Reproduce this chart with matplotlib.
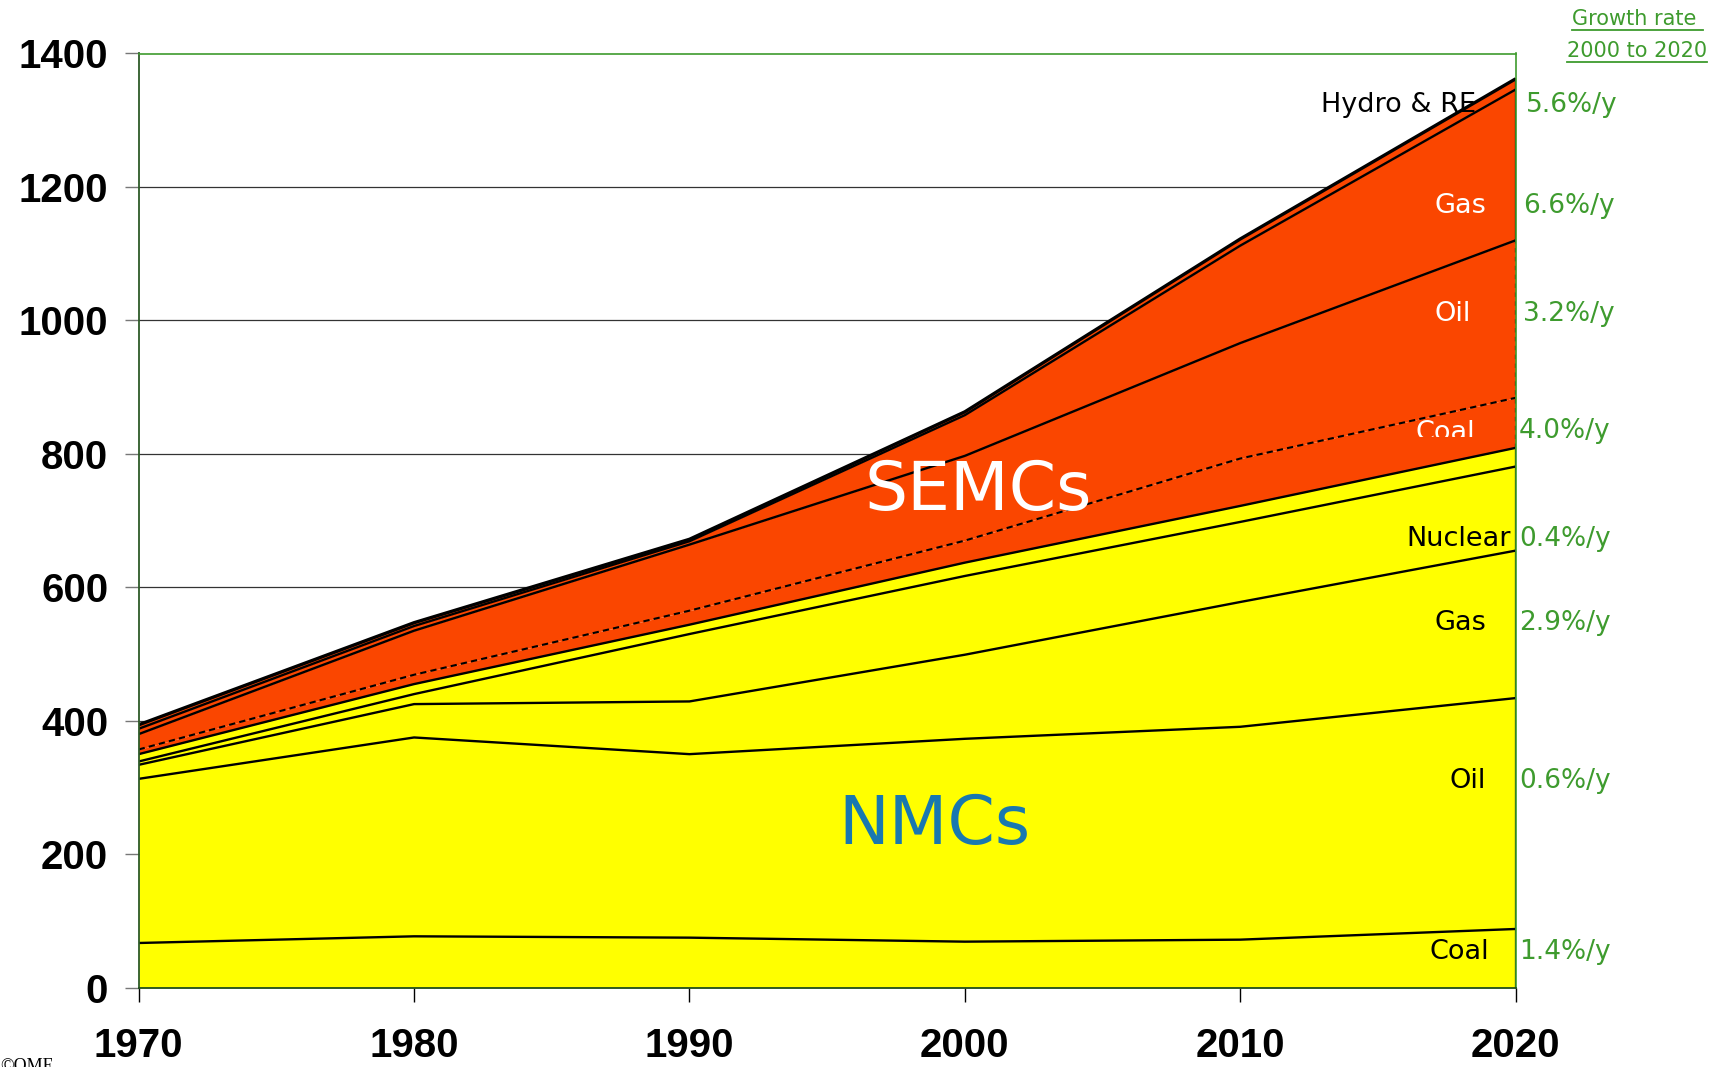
import matplotlib
matplotlib.use("Agg")
import matplotlib.pyplot as plt
from matplotlib.lines import Line2D
from matplotlib.patches import Rectangle
import numpy as np

# ---- data (Mtoe) ----
years = [1970, 1980, 1990, 2000, 2010, 2020]
nmc_coal = [67, 77, 75, 69, 72, 88]
nmc_oil = [246, 298, 275, 304, 319, 346]
nmc_gas = [21, 50, 79, 126, 187, 221]
nmc_nuclear = [5, 15, 101, 118, 120, 126]
nmc_hydro = [11, 15, 14, 20, 24, 28]
semc_coal = [7, 14, 21, 33, 71, 75]
semc_oil = [23, 66, 99, 127, 173, 236]
semc_gas = [8, 7, 5, 61, 146, 226]
semc_hydro = [6, 5, 3, 5, 10, 16]

layer_names = ["Coal", "Oil", "Gas", "Nuclear", "Hydro", "Coal", "Oil", "Gas", "Hydro & RE"]
growth_rates = ["1.4%/y", "0.6%/y", "2.9%/y", "0.4%/y", None, "4.0%/y", "3.2%/y", "6.6%/y", "5.6%/y"]
y_ticks = [0, 200, 400, 600, 800, 1000, 1200, 1400]
x_ticks = [1970, 1980, 1990, 2000, 2010, 2020]

YELLOW = "#FFFF00"
ORANGE = "#FA4600"
GREEN = "#3E9B2E"

layers = [nmc_coal, nmc_oil, nmc_gas, nmc_nuclear, nmc_hydro,
          semc_coal, semc_oil, semc_gas, semc_hydro]
colors = [YELLOW] * 5 + [ORANGE] * 4
styles = ["-"] * 5 + ["--", "-", "-", "-"]

W, H = 1712, 1067
fig = plt.figure(figsize=(W / 100, H / 100), dpi=100)
ax = fig.add_axes([138.7 / W, 1 - 987.7 / H, (1515.6 - 138.7) / W, (987.7 - 53.5) / H])

x = np.array(years, dtype=float)
cum = np.cumsum(np.array(layers, dtype=float), axis=0)
base = np.zeros_like(x)

ax.set_xlim(1970, 2020)
ax.set_ylim(0, 1400)

for yv in y_ticks[1:-1]:
    ax.axhline(yv, color="#333333", lw=0.9, zorder=0)

for i, top in enumerate(cum):
    ax.fill_between(x, base, top, color=colors[i], lw=0, zorder=1)
    lw = 2.4 if i == len(cum) - 1 else 1.7
    if styles[i] == "--":
        ax.plot(x, top, color="black", lw=1.5, ls=(0, (3, 2)), zorder=3)
    else:
        ax.plot(x, top, color="black", lw=lw, zorder=3, solid_capstyle="butt")
    base = top

# right edge of the areas
ax.plot([2020, 2020], [0, cum[4][-1]], color="black", lw=1.6, zorder=3)
ax.plot([2020, 2020], [cum[4][-1], cum[6][-1]], color="black", lw=1.6, ls=(0, (2, 2)), zorder=3)
ax.plot([2020, 2020], [cum[6][-1], cum[8][-1]], color="black", lw=1.6, zorder=3)

# spines
for s in ["top", "right"]:
    ax.spines[s].set_color(GREEN)
    ax.spines[s].set_linewidth(1.2)
ax.spines["left"].set_color("#2d5a27")
ax.spines["left"].set_linewidth(1.3)
ax.spines["bottom"].set_color("#1f4d1a")
ax.spines["bottom"].set_linewidth(1.3)
for s in ax.spines.values():
    s.set_zorder(4)

ax.set_yticks(y_ticks)
ax.set_yticklabels([str(v) for v in y_ticks], fontfamily="Liberation Sans",
                   fontweight="bold", fontsize=29)
ax.set_xticks(x_ticks)
ax.set_xticklabels([str(v) for v in x_ticks], fontfamily="Liberation Sans",
                   fontweight="bold", fontsize=29)
ax.tick_params(axis="y", direction="out", length=10, width=1, color="#777777", pad=12)
ax.tick_params(axis="x", direction="out", length=10, width=1, color="black", pad=18)

# right-hand labels
def px(xp, yp):
    return xp / W, 1 - yp / H

lab_fs = 19.5
label_specs = [
    ("Hydro & RE", 1476, 105, "black"),
    ("Gas", 1486, 206, "white"),
    ("Oil", 1471, 314, "white"),
    ("Nuclear", 1511, 539, "black"),
    ("Gas", 1486, 623, "black"),
    ("Oil", 1486, 781, "black"),
    ("Coal", 1489, 952, "black"),
]
for txt, xp, yp, col in label_specs:
    fig.text(*px(xp, yp), txt, ha="right", va="center", color=col,
             fontsize=lab_fs, fontfamily="DejaVu Sans", zorder=6)

# Coal (SEMC) label, clipped at its bottom as in the original
t = fig.text(*px(1475, 433), "Coal", ha="right", va="center", color="white",
             fontsize=lab_fs, fontfamily="DejaVu Sans", zorder=6)
clip = Rectangle((0, 1 - 437 / H), 1, 437 / H, transform=fig.transFigure, visible=False)
fig.add_artist(clip)
t.set_clip_path(clip)

rate_specs = [
    ("5.6%/y", 1526, 105),
    ("6.6%/y", 1523, 206),
    ("3.2%/y", 1523, 314),
    ("4.0%/y", 1519, 431),
    ("0.4%/y", 1519, 539),
    ("2.9%/y", 1519, 623),
    ("0.6%/y", 1519, 781),
    ("1.4%/y", 1519, 952),
]
for txt, xp, yp in rate_specs:
    fig.text(*px(xp, yp), txt, ha="left", va="center", color=GREEN,
             fontsize=19, fontfamily="DejaVu Sans")

# header
h1 = fig.text(*px(1637, 19), "Growth rate ", ha="center", va="center", color=GREEN,
              fontsize=15, fontfamily="DejaVu Sans")
h2 = fig.text(*px(1637, 51), "2000 to 2020", ha="center", va="center", color=GREEN,
              fontsize=15, fontfamily="DejaVu Sans")

# big region labels
ax.text(2000.5, 745, "SEMCs", ha="center", va="center", color="white",
        fontsize=49, fontfamily="DejaVu Sans", zorder=6)
ax.text(1998.9, 244, "NMCs", ha="center", va="center", color="#1878B0",
        fontsize=49, fontfamily="DejaVu Sans", zorder=6)

# source credit (cut off at the bottom edge, as in the original)
fig.text(0.0, 1 - 1058 / H, "\u00a9OME", ha="left", va="top", color="black",
         fontsize=13, fontfamily="Liberation Serif")

# underline header texts
fig.canvas.draw()
r = fig.canvas.get_renderer()
for tt in (h1, h2):
    bb = tt.get_window_extent(renderer=r)
    yb = bb.y0 - 1
    fig.add_artist(Line2D([bb.x0 / W, bb.x1 / W], [yb / H, yb / H],
                          transform=fig.transFigure, color=GREEN, lw=1.3))

fig.savefig("out.png", dpi=100)
